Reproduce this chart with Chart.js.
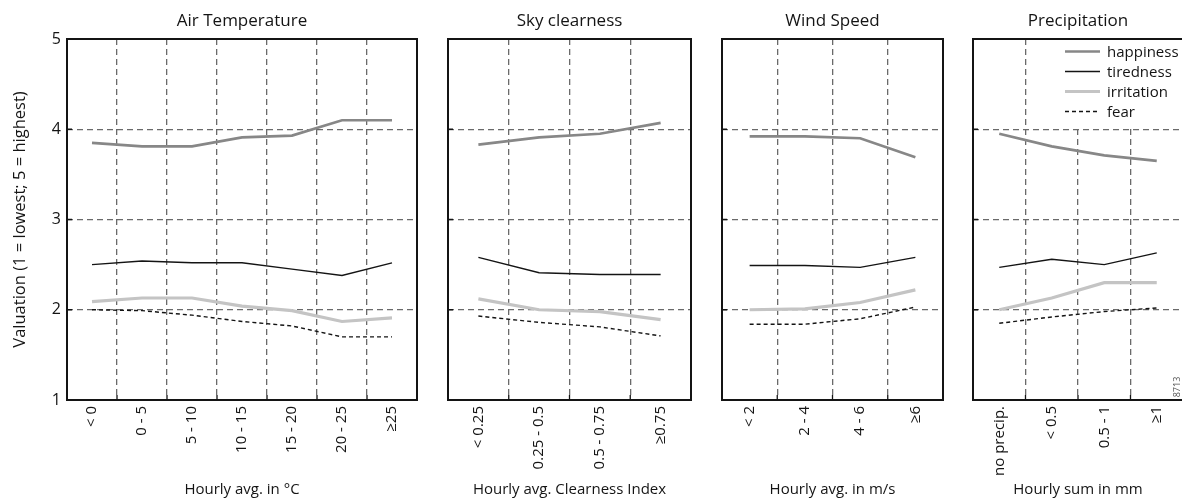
<!DOCTYPE html>
<html>
<head>
<meta charset="utf-8">
<script src="https://cdn.jsdelivr.net/npm/chart.js@4.4.0/dist/chart.umd.min.js"></script>
<style>
  html, body { margin: 0; padding: 0; background: #fff; overflow: hidden; }
  #wrap { position: relative; width: 1182px; height: 500px; overflow: hidden; }
  #wrap canvas { position: absolute; top: 0; }
</style>
</head>
<body>
<div id="wrap">
  <canvas id="c1" width="430" height="500" style="left:0px"></canvas>
  <canvas id="c2" width="260" height="500" style="left:440px"></canvas>
  <canvas id="c3" width="240" height="500" style="left:714px"></canvas>
  <canvas id="c4" width="225" height="500" style="left:965px"></canvas>
</div>
<script>
// categories
const tempLabels = ['< 0', '0 - 5', '5 - 10', '10 - 15', '15 - 20', '20 - 25', '≥25'];
const skyLabels = ['< 0.25', '0.25 - 0.5', '0.5 - 0.75', '≥0.75'];
const windLabels = ['< 2', '2 - 4', '4 - 6', '≥6'];
const precipLabels = ['no precip.', '< 0.5', '0.5 - 1', '≥1'];

const seriesNames = ['happiness', 'tiredness', 'irritation', 'fear'];
const yTicks = [1, 2, 3, 4, 5];

// air temperature
const tempHappiness = [3.85, 3.81, 3.81, 3.91, 3.93, 4.10, 4.10];
const tempTiredness = [2.50, 2.54, 2.52, 2.52, 2.45, 2.38, 2.52];
const tempIrritation = [2.09, 2.13, 2.13, 2.04, 1.99, 1.87, 1.91];
const tempFear = [2.00, 1.99, 1.94, 1.87, 1.82, 1.70, 1.70];

// sky clearness
const skyHappiness = [3.83, 3.91, 3.95, 4.07];
const skyTiredness = [2.58, 2.41, 2.39, 2.39];
const skyIrritation = [2.12, 2.00, 1.98, 1.89];
const skyFear = [1.93, 1.86, 1.81, 1.71];

// wind speed
const windHappiness = [3.92, 3.92, 3.90, 3.69];
const windTiredness = [2.49, 2.49, 2.47, 2.58];
const windIrritation = [2.00, 2.01, 2.08, 2.22];
const windFear = [1.84, 1.84, 1.90, 2.03];

// precipitation
const precipHappiness = [3.95, 3.81, 3.71, 3.65];
const precipTiredness = [2.47, 2.56, 2.50, 2.63];
const precipIrritation = [2.00, 2.13, 2.30, 2.30];
const precipFear = [1.85, 1.92, 1.98, 2.02];

const FONT = '"Open Sans", "Noto Sans", sans-serif';
const INK = '#141414';
const GRID = '#6a6a6a';

const styles = [
  { borderColor: '#878787', borderWidth: 2.7 },
  { borderColor: INK, borderWidth: 1.4 },
  { borderColor: '#c4c4c4', borderWidth: 3.2 },
  { borderColor: INK, borderWidth: 1.4, borderDash: [4, 3] }
];

// frame around the plot + small solid ticks on the axes
const framePlugin = {
  id: 'frame',
  afterDatasetsDraw(chart) {
    const { ctx, chartArea: a, scales: { x, y } } = chart;
    ctx.save();
    ctx.strokeStyle = INK;
    ctx.lineWidth = 1.3;
    ctx.beginPath();
    for (let i = 1; i < x.ticks.length; i++) {
      const px = (x.getPixelForValue(i - 1) + x.getPixelForValue(i)) / 2;
      ctx.moveTo(px, a.bottom);
      ctx.lineTo(px, a.bottom - 5);
    }
    [2, 3, 4].forEach(v => {
      const py = y.getPixelForValue(v);
      ctx.moveTo(a.left, py);
      ctx.lineTo(a.left + 5, py);
    });
    ctx.stroke();
    ctx.lineWidth = 2;
    ctx.strokeRect(a.left, a.top, a.right - a.left, a.bottom - a.top);
    ctx.restore();
  }
};

// legend inside the last panel
const boxLegend = {
  id: 'boxLegend',
  beforeDatasetsDraw(chart) {
    const { ctx, chartArea: a } = chart;
    ctx.save();
    ctx.fillStyle = '#fff';
    ctx.fillRect(a.right - 126, a.top + 1, 126, 86);
    ctx.restore();
  },
  afterDatasetsDraw(chart) {
    const { ctx, chartArea: a } = chart;
    chart.data.datasets.forEach((ds, i) => {
      const y = a.top + 12.5 + i * 20;
      const x0 = a.right - 118;
      ctx.save();
      ctx.strokeStyle = ds.borderColor;
      ctx.lineWidth = ds.borderWidth;
      ctx.setLineDash(ds.borderDash || []);
      ctx.beginPath();
      ctx.moveTo(x0, y);
      ctx.lineTo(x0 + 35, y);
      ctx.stroke();
      ctx.setLineDash([]);
      ctx.fillStyle = INK;
      ctx.font = '15px ' + FONT;
      ctx.textBaseline = 'middle';
      ctx.fillText(ds.label, x0 + 42, y + 1);
      ctx.restore();
    });
    // figure number
    ctx.save();
    ctx.translate(a.right - 6, a.bottom - 13);
    ctx.rotate(-Math.PI / 2);
    ctx.fillStyle = '#555';
    ctx.font = '9px ' + FONT;
    ctx.textAlign = 'center';
    ctx.textBaseline = 'middle';
    ctx.fillText('8713', 0, 0);
    ctx.restore();
  }
};

function makePanel(id, labels, values, title, xTitle, yWidth, padRight, first, legend) {
  const datasets = values.map((v, i) => Object.assign({
    label: seriesNames[i],
    data: v,
    pointRadius: 0,
    tension: 0,
    fill: false
  }, styles[i]));

  new Chart(document.getElementById(id), {
    type: 'line',
    data: { labels, datasets },
    plugins: legend ? [framePlugin, boxLegend] : [framePlugin],
    options: {
      responsive: false,
      animation: false,
      events: [],
      layout: { padding: { left: 0, right: padRight, top: 0, bottom: 0 } },
      plugins: {
        legend: { display: false },
        tooltip: { enabled: false },
        title: {
          display: true,
          text: title,
          fullSize: false,
          color: INK,
          font: { family: FONT, size: 17, weight: 'normal' },
          padding: { top: 10.5, bottom: 8.1 }
        }
      },
      scales: {
        x: {
          offset: true,
          grid: {
            offset: true,
            drawTicks: false,
            color: GRID,
            lineWidth: 1.3
          },
          border: { display: false, dash: [6, 4] },
          ticks: {
            minRotation: 90,
            maxRotation: 90,
            autoSkip: false,
            padding: 6,
            color: INK,
            font: { family: FONT, size: 15 }
          },
          title: {
            display: true,
            text: xTitle,
            color: INK,
            font: { family: FONT, size: 15 },
            padding: { top: 0, bottom: 1 }
          },
          afterFit: s => { s.height = 100; }
        },
        y: {
          min: 1,
          max: 5,
          afterBuildTicks: s => { s.ticks = yTicks.map(v => ({ value: v })); },
          grid: {
            drawTicks: false,
            color: c => (c.tick && (c.tick.value === 1 || c.tick.value === 5)) ? 'rgba(0,0,0,0)' : GRID,
            lineWidth: 1.3
          },
          border: { display: false, dash: [6, 4] },
          ticks: {
            display: first,
            padding: 6,
            color: INK,
            font: { family: FONT, size: 16 }
          },
          title: {
            display: first,
            text: 'Valuation (1 = lowest; 5 = highest)',
            color: INK,
            font: { family: FONT, size: 16.5 },
            padding: { top: 10, bottom: 0 }
          },
          afterFit: s => { s.width = yWidth; }
        }
      }
    }
  });
}

makePanel('c1', tempLabels, [tempHappiness, tempTiredness, tempIrritation, tempFear],
  'Air Temperature', 'Hourly avg. in °C', 67, 13, true, false);
makePanel('c2', skyLabels, [skyHappiness, skyTiredness, skyIrritation, skyFear],
  'Sky clearness', 'Hourly avg. Clearness Index', 8, 9, false, false);
makePanel('c3', windLabels, [windHappiness, windTiredness, windIrritation, windFear],
  'Wind Speed', 'Hourly avg. in m/s', 8, 11, false, false);
makePanel('c4', precipLabels, [precipHappiness, precipTiredness, precipIrritation, precipFear],
  'Precipitation', 'Hourly sum in mm', 8, 7, false, true);
</script>
</body>
</html>
